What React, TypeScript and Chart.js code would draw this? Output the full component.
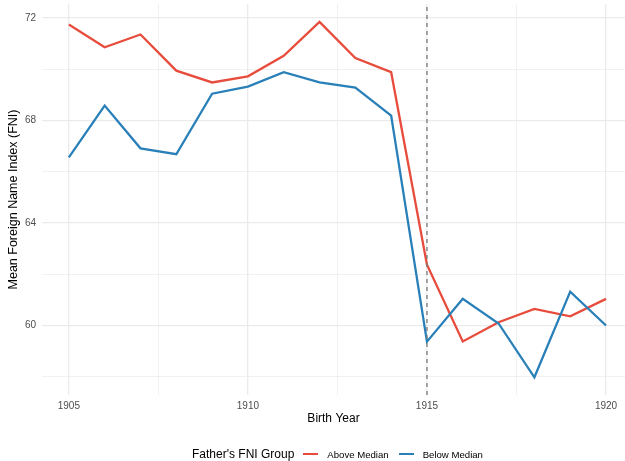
import React, { useEffect, useRef } from "react";
import { Chart, registerables } from "chart.js";

Chart.register(...registerables);

const years = [1905, 1906, 1907, 1908, 1909, 1910, 1911, 1912, 1913, 1914, 1915, 1916, 1917, 1918, 1919, 1920];
const aboveMedian = [71.74, 70.85, 71.35, 69.94, 69.48, 69.72, 70.52, 71.84, 70.43, 69.88, 62.37, 59.38, 60.13, 60.65, 60.36, 61.04];
const belowMedian = [66.56, 68.58, 66.91, 66.68, 69.04, 69.32, 69.88, 69.48, 69.28, 68.19, 59.37, 61.04, 60.08, 57.98, 61.32, 60.0];
const xTickValues = [1905, 1907.5, 1910, 1912.5, 1915, 1917.5, 1920];
const xLabelValues = [1905, 1910, 1915, 1920];
const yTickValues = [58, 60, 62, 64, 66, 68, 70, 72];
const yLabelValues = [60, 64, 68, 72];
const cutoffYear = 1915;
const seriesNames = ["Above Median", "Below Median"];
const legendTitle = "Father's FNI Group";
const xTitle = "Birth Year";
const yTitle = "Mean Foreign Name Index (FNI)";

const RED = "#E74C3C";
const BLUE = "#2980B9";
const Y_MIN = 57.29;
const Y_MAX = 72.54;
const FONT = "'Liberation Sans', Arial, Helvetica, sans-serif";

export default function App() {
  const ref = useRef<HTMLCanvasElement | null>(null);

  useEffect(() => {
    if (!ref.current) return;
    const chart = new Chart(ref.current, {
      type: "line",
      data: {
        datasets: [
          {
            label: "cutoff",
            data: [
              { x: cutoffYear, y: Y_MIN },
              { x: cutoffYear, y: Y_MAX },
            ],
            borderColor: "#7a7a7a",
            borderWidth: 1.3,
            borderDash: [4, 4],
            pointRadius: 0,
            order: 0,
          },
          {
            label: seriesNames[0],
            data: years.map((x, i) => ({ x, y: aboveMedian[i] })),
            borderColor: RED,
            borderWidth: 2.3,
            pointRadius: 0,
            tension: 0,
            order: 2,
          },
          {
            label: seriesNames[1],
            data: years.map((x, i) => ({ x, y: belowMedian[i] })),
            borderColor: BLUE,
            borderWidth: 2.3,
            pointRadius: 0,
            tension: 0,
            order: 1,
          },
        ],
      },
      options: {
        animation: false,
        responsive: false,
        maintainAspectRatio: false,
        layout: { padding: { top: 4, bottom: 30, left: 0, right: 0 } },
        plugins: {
          legend: { display: false },
          tooltip: { enabled: false },
        },
        scales: {
          x: {
            type: "linear",
            min: 1904.25,
            max: 1920.53,
            border: { display: false },
            afterBuildTicks: (scale: any) => {
              scale.ticks = xTickValues.map((v) => ({ value: v }));
            },
            afterFit: (scale: any) => {
              scale.height = 36;
              scale.paddingLeft = 0;
              scale.paddingRight = 0;
              scale.paddingTop = 0;
              scale.paddingBottom = 0;
            },
            grid: {
              drawTicks: false,
              color: "#ebebeb",
              lineWidth: (ctx: any) => (xLabelValues.includes(ctx.tick?.value) ? 1.3 : 0.7),
            },
            ticks: {
              padding: 5,
              color: "#4d4d4d",
              font: { family: FONT, size: 10 },
              maxRotation: 0,
              autoSkip: false,
              callback: (v: any) => (xLabelValues.includes(Number(v)) ? String(v) : ""),
            },
            title: {
              display: true,
              text: xTitle,
              color: "#000000",
              font: { family: FONT, size: 12 },
              padding: { top: 0, bottom: 4.8 },
            },
          },
          y: {
            type: "linear",
            min: Y_MIN,
            max: Y_MAX,
            border: { display: false },
            afterBuildTicks: (scale: any) => {
              scale.ticks = yTickValues.map((v) => ({ value: v }));
            },
            afterFit: (scale: any) => {
              scale.width = 42;
              scale.paddingLeft = 0;
              scale.paddingRight = 0;
              scale.paddingTop = 0;
              scale.paddingBottom = 0;
            },
            grid: {
              drawTicks: false,
              color: "#ebebeb",
              lineWidth: (ctx: any) => (yLabelValues.includes(ctx.tick?.value) ? 1.3 : 0.7),
            },
            ticks: {
              padding: 6,
              color: "#4d4d4d",
              font: { family: FONT, size: 10 },
              autoSkip: false,
              callback: (v: any) => (yLabelValues.includes(Number(v)) ? String(v) : ""),
            },
            title: {
              display: true,
              text: yTitle,
              color: "#000000",
              font: { family: FONT, size: 12.5 },
              padding: { top: 6.5, bottom: 0 },
            },
          },
        },
      },
    });
    return () => chart.destroy();
  }, []);

  const keyStyle = (c: string): React.CSSProperties => ({
    display: "inline-block",
    width: 15,
    height: 2.3,
    background: c,
    margin: "0 9px 0 9px",
  });

  return (
    <div
      style={{
        position: "fixed",
        left: 0,
        top: 0,
        width: 625,
        height: 461,
        overflow: "hidden",
        background: "#ffffff",
        fontFamily: FONT,
      }}
    >
      <canvas ref={ref} width={625} height={461} style={{ display: "block", width: 625, height: 461 }} />
      <div
        style={{
          position: "absolute",
          left: 192,
          top: 446,
          height: 16,
          display: "flex",
          alignItems: "center",
          whiteSpace: "nowrap",
        }}
      >
        <span style={{ fontSize: 12, color: "#000" }}>{legendTitle}</span>
        <span style={keyStyle(RED)} />
        <span style={{ fontSize: 9.6, color: "#000" }}>{seriesNames[0]}</span>
        <span style={{ ...keyStyle(BLUE), marginLeft: 10 }} />
        <span style={{ fontSize: 9.6, color: "#000" }}>{seriesNames[1]}</span>
      </div>
    </div>
  );
}
